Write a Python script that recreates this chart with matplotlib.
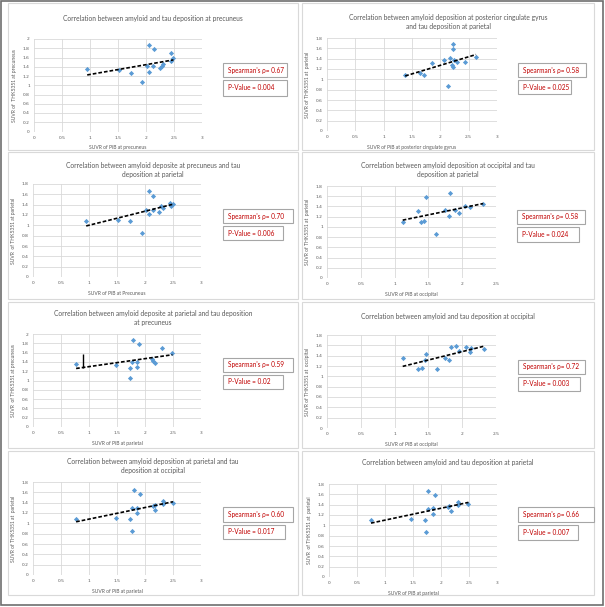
""" Grid of eight amyloid vs tau correlation scatter plots
"""

import numpy as np
import matplotlib
matplotlib.use('Agg')
import matplotlib.pyplot as plt
from matplotlib.patches import Rectangle

plt.rcParams['font.family'] = ['Lato', 'DejaVu Sans']

W, H = 605, 607

titles = [
    'Correlation between amyloid and tau deposition at precuneus',
    'Correlation between amyloid deposition at posterior cingulate gyrus\nand tau deposition at parietal',
    'Correlation between amyloid deposite at precuneus and tau\ndeposition at parietal',
    'Correlation between amyloid deposition at occipital and tau\ndeposition at parietal',
    'Correlation between amyloid deposite at parietal and tau deposition\nat precuneus',
    'Correlation between amyloid and tau deposition at occipital',
    'Correlation between amyloid deposition at parietal and tau\ndeposition at occipital',
    'Correlation between amyloid and tau deposition at parietal',
]
xlabels = [
    'SUVR of PiB at precuneus',
    'SUVR of PiB at posterior cingulate gyrus',
    'SUVR of PiB at Precuneus',
    'SUVR of PiB at occipital',
    'SUVR of PiB at parietal',
    'SUVR of PiB at occipital',
    'SUVR of PiB at parietal',
    'SUVR of PiB at parietal',
]
ylabels = [
    'SUVR of  THK5351 at precuneus',
    'SUVR of THK5351 at  parietal',
    'SUVR  of THK5351 at parietal',
    'SUVR of THK5351 at  parietal',
    'SUVR  of THK5351 at precuneus',
    'SUVR of THK5351 at  occipital',
    'SUVR of THK5351 at  parietal',
    'SUVR  of THK5351 at  parietal',
]
rho = ['0.67', '0.58', '0.70', '0.58', '0.59', '0.72', '0.60', '0.66']
pval = ['0.004', '0.025', '0.006', '0.024', '0.02', '0.003', '0.017', '0.007']
xmax = [3, 3, 3, 2.5, 3, 2.5, 3, 3]
ymax = [2, 1.8, 1.8, 1.8, 2, 1.8, 1.8, 1.8]

x1 = [0.95, 1.52, 1.73, 1.93, 2.01, 2.06, 2.06, 2.13, 2.14, 2.25, 2.28, 2.31, 2.44, 2.45, 2.49]
y1 = [1.35, 1.32, 1.27, 1.06, 1.41, 1.87, 1.29, 1.42, 1.78, 1.37, 1.42, 1.46, 1.52, 1.69, 1.60]
x2 = [1.38, 1.64, 1.72, 1.85, 2.07, 2.13, 2.17, 2.20, 2.22, 2.22, 2.23, 2.24, 2.29, 2.44, 2.63]
y2 = [1.09, 1.12, 1.09, 1.31, 1.38, 0.87, 1.42, 1.27, 1.23, 1.68, 1.59, 1.38, 1.33, 1.34, 1.44]
x3 = [0.95, 1.52, 1.74, 1.94, 2.01, 2.07, 2.07, 2.14, 2.14, 2.25, 2.29, 2.32, 2.45, 2.46, 2.50]
y3 = [1.09, 1.10, 1.09, 0.85, 1.30, 1.66, 1.21, 1.29, 1.56, 1.26, 1.37, 1.33, 1.43, 1.37, 1.41]
x4 = [1.12, 1.35, 1.39, 1.44, 1.46, 1.61, 1.74, 1.80, 1.82, 1.90, 1.95, 2.04, 2.12, 2.31]
y4 = [1.10, 1.31, 1.09, 1.11, 1.58, 0.86, 1.34, 1.22, 1.67, 1.33, 1.28, 1.41, 1.38, 1.45]
x5 = [0.77, 1.48, 1.74, 1.74, 1.79, 1.77, 1.85, 1.86, 1.90, 2.13, 2.15, 2.17, 2.31, 2.49]
y5 = [1.35, 1.33, 1.26, 1.06, 1.87, 1.40, 1.40, 1.28, 1.78, 1.46, 1.41, 1.37, 1.69, 1.60]
x6 = [1.12, 1.35, 1.40, 1.45, 1.47, 1.62, 1.75, 1.80, 1.83, 1.91, 1.96, 2.05, 2.12, 2.13, 2.32]
y6 = [1.35, 1.15, 1.17, 1.31, 1.43, 1.14, 1.35, 1.31, 1.56, 1.58, 1.49, 1.57, 1.48, 1.55, 1.53]
x7 = [0.77, 1.48, 1.74, 1.76, 1.80, 1.77, 1.86, 1.86, 1.91, 2.14, 2.17, 2.18, 2.32, 2.32, 2.50]
y7 = [1.08, 1.11, 1.08, 0.85, 1.65, 1.30, 1.30, 1.20, 1.56, 1.34, 1.36, 1.25, 1.43, 1.37, 1.39]
x8 = [0.75, 1.46, 1.72, 1.73, 1.77, 1.76, 1.85, 1.86, 1.89, 2.13, 2.15, 2.17, 2.30, 2.30, 2.49]
y8 = [1.10, 1.12, 1.10, 0.87, 1.66, 1.31, 1.33, 1.22, 1.58, 1.36, 1.38, 1.28, 1.46, 1.39, 1.42]
xs = [x1, x2, x3, x4, x5, x6, x7, x8]
ys = [y1, y2, y3, y4, y5, y6, y7, y8]

# stray error bar in panel 5
err_x = 0.89
err_y = (1.26, 1.58)

# layout in pixels: panel frame, plot area, rho box, p box, title centre y
panels = [(8, 298, 3, 150), (302, 594, 3, 150),
          (8, 298, 152, 299), (302, 594, 152, 299),
          (8, 298, 302, 448), (302, 594, 302, 448),
          (8, 298, 451, 595), (302, 594, 451, 595)]
plot_areas = [(34, 202, 39, 131.5), (327, 497, 38, 131),
              (33, 201, 184, 277), (327, 496, 186, 278),
              (33, 201, 334, 427), (327, 496, 335, 428),
              (33, 201, 482, 575), (329, 497, 484, 577)]
rho_boxes = [(223, 287, 63, 77), (518, 586, 63, 77),
             (223, 293, 209, 223), (517, 585, 210, 224),
             (223, 293, 358, 372), (518, 585, 360, 374),
             (223, 293, 507, 522), (518, 594, 507, 522)]
p_boxes = [(223, 287, 80, 96), (518, 571, 80, 94),
           (223, 283, 226, 240), (517, 579, 227, 242),
           (223, 283, 375, 389), (518, 580, 377, 391),
           (223, 285, 525, 539), (518, 578, 525, 540)]
title_y = [18, 22, 170, 170, 318, 317, 466, 463]

GRAY = '#595959'
RED = '#c00000'


def fx(px):
    return px / W


def fy(py):
    return 1 - py / H


def add_box(fig, box, text):
    x0, x1, y0, y1 = box
    fig.patches.append(Rectangle((fx(x0), fy(y1)), fx(x1 - x0), (y1 - y0) / H,
                                 transform=fig.transFigure, facecolor='white',
                                 edgecolor='#a6a6a6', linewidth=0.8, zorder=2))
    fig.text(fx(x0 + 5), fy((y0 + y1) / 2), text, color=RED, fontsize=4.7,
             ha='left', va='center', zorder=3)


fig = plt.figure(figsize=(W / 100, H / 100), dpi=100)
fig.patch.set_facecolor('white')

# outer frame
fig.patches.append(Rectangle((fx(1), fy(605)), fx(602), 604 / H,
                             transform=fig.transFigure, fill=False,
                             edgecolor='#6e6e6e', linewidth=1.2, zorder=-2))

for i in range(8):
    px0, px1, py0, py1 = panels[i]
    fig.patches.append(Rectangle((fx(px0), fy(py1)), fx(px1 - px0), (py1 - py0) / H,
                                 transform=fig.transFigure, facecolor='white',
                                 edgecolor='#d9d9d9', linewidth=0.8, zorder=-1))

    ax0, ax1, ay0, ay1 = plot_areas[i]
    ax = fig.add_axes([fx(ax0), fy(ay1), fx(ax1 - ax0), (ay1 - ay0) / H])
    ax.patch.set_alpha(0)
    ax.set_xlim(0, xmax[i])
    ax.set_ylim(0, ymax[i])
    ax.set_xticks(np.arange(0, xmax[i] + 0.01, 0.5))
    ax.set_yticks(np.arange(0, ymax[i] + 0.01, 0.2))
    ax.set_xticklabels(['%g' % v for v in ax.get_xticks()], family='DejaVu Sans')
    ax.set_yticklabels(['%g' % round(v, 1) for v in ax.get_yticks()], family='DejaVu Sans')
    ax.grid(True, color='#d9d9d9', linewidth=0.6)
    ax.set_axisbelow(True)
    for side in ax.spines:
        ax.spines[side].set_visible(False)
    ax.tick_params(length=0, labelsize=3.2, labelcolor=GRAY, pad=3)

    x = np.array(xs[i])
    y = np.array(ys[i])
    ax.scatter(x, y, s=7, color='#5b9bd5', marker='D', linewidths=0, zorder=3)

    # linear trendline as Excel draws it
    slope, icpt = np.polyfit(x, y, 1)
    tx = np.array([x.min(), x.max()])
    ax.plot(tx, slope * tx + icpt, color='black', linestyle=(0, (2.2, 1.2)),
            linewidth=1.2, zorder=4)

    if i == 4:
        ax.vlines(err_x, err_y[0], err_y[1], color='black', linewidth=1.0, zorder=4)

    ax.set_xlabel(xlabels[i], fontsize=3.6, color=GRAY, labelpad=4)
    ax.set_ylabel(ylabels[i], fontsize=3.6, color=GRAY, labelpad=4)
    fig.text(fx((px0 + px1) / 2), fy(title_y[i]), titles[i], fontsize=4.8,
             color=GRAY, ha='center', va='center', linespacing=1.4)

    add_box(fig, rho_boxes[i], "Spearman's \u03c1= " + rho[i])
    add_box(fig, p_boxes[i], 'P-Value = ' + pval[i])

fig.savefig('out.png', dpi=100, facecolor='white')
